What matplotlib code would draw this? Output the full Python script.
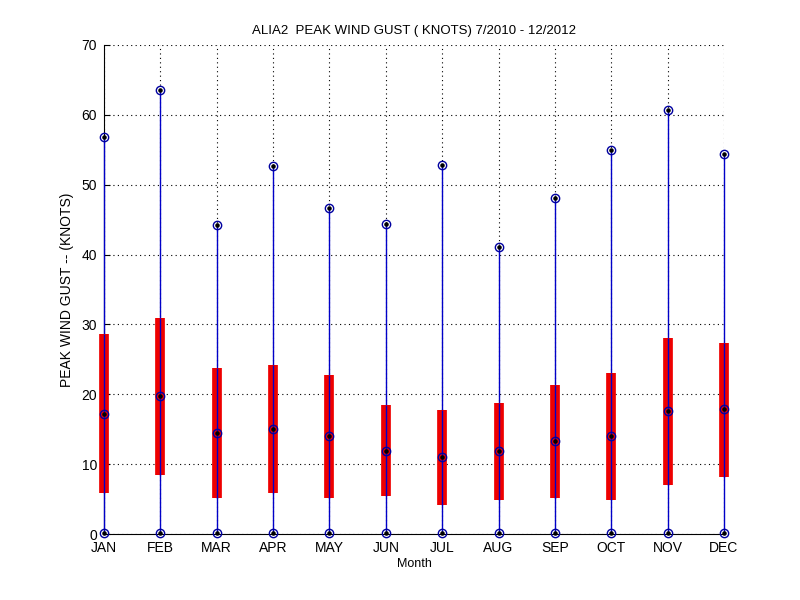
import matplotlib
matplotlib.use("Agg")
from matplotlib import pyplot as plt
import numpy as np

plt.rcParams['font.family'] = ['Liberation Sans', 'DejaVu Sans']

months = ['JAN', 'FEB', 'MAR', 'APR', 'MAY', 'JUN', 'JUL', 'AUG', 'SEP', 'OCT', 'NOV', 'DEC']
gust_max = [56.8, 63.6, 44.2, 52.7, 46.7, 44.4, 52.8, 41.1, 48.1, 55.0, 60.7, 54.4]
gust_q3 = [28.6, 30.9, 23.8, 24.2, 22.7, 18.4, 17.7, 18.8, 21.3, 23.0, 28.0, 27.3]
gust_median = [17.2, 19.7, 14.4, 15.1, 14.0, 11.9, 11.0, 11.9, 13.3, 14.0, 17.6, 17.9]
gust_q1 = [5.9, 8.5, 5.1, 5.9, 5.2, 5.4, 4.2, 4.8, 5.2, 4.9, 7.0, 8.2]
gust_min = [0.2, 0.2, 0.2, 0.2, 0.2, 0.2, 0.2, 0.2, 0.2, 0.2, 0.2, 0.2]

x = np.arange(1, len(months) + 1)

fig = plt.figure(figsize=(8, 6), dpi=100)
ax = fig.add_axes([0.13, 0.11, 0.775, 0.815])
ax.set_axisbelow(True)

# whiskers and boxes
ax.vlines(x, gust_min, gust_max, color='#0000c8', lw=1, zorder=3, clip_on=False)
ax.vlines(x, gust_q1, gust_q3, color='#ee0000', lw=7, zorder=4, clip_on=False)
ax.vlines(x, gust_q1, gust_q3, color='#0000c8', lw=1, zorder=5, clip_on=False)

# min / max / median markers
for vals in (gust_min, gust_max, gust_median):
    ax.plot(x, vals, 'o', mfc='none', mec='#0000a0', ms=6, mew=1, zorder=6, clip_on=False)
    ax.plot(x, vals, '.', color='black', ms=4.5, zorder=7, clip_on=False)

ax.set_xlim(1, 12)
ax.set_ylim(0, 70)
ax.set_xticks(x)
ax.set_xticklabels(months)
ax.set_yticks(np.arange(0, 71, 10))
ax.tick_params(direction='in', labelsize=10, length=4, pad=5)
ax.tick_params(axis='x', length=0, pad=5)
ax.grid(True, color='black', linestyle=(0, (1, 3)), lw=0.8)
ax.spines['top'].set_visible(False)
ax.spines['right'].set_visible(False)
ax.spines['left'].set_zorder(2)
ax.spines['bottom'].set_zorder(2)

ax.set_title('ALIA2  PEAK WIND GUST ( KNOTS) 7/2010 - 12/2012', fontsize=9.5, pad=8)
ax.set_xlabel('Month', fontsize=9, labelpad=2)
ax.set_ylabel('PEAK WIND GUST -- (KNOTS)', fontsize=10, labelpad=5)

plt.savefig('out.png', dpi=100)
